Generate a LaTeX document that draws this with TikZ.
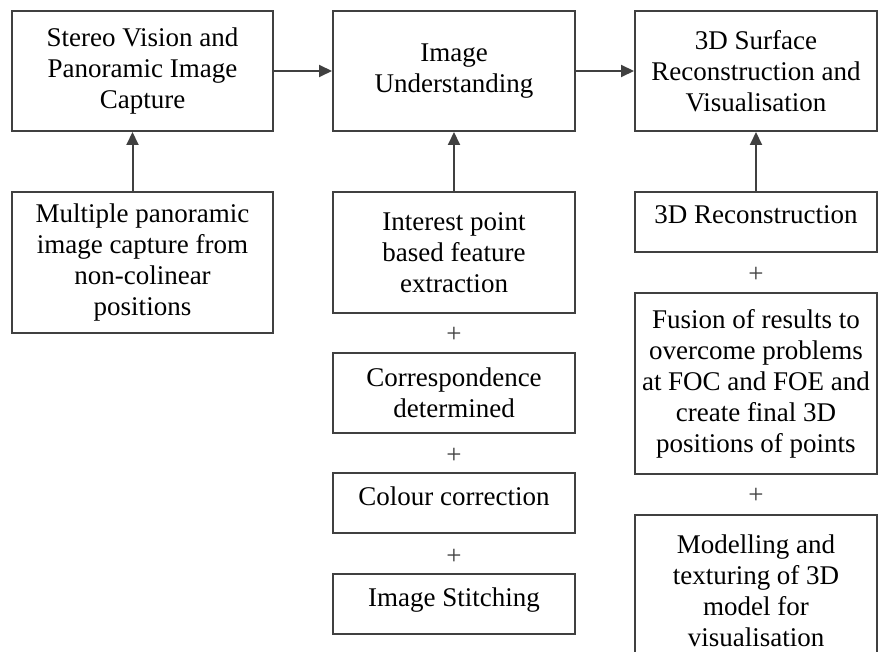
\documentclass[tikz,border=0pt]{standalone}
\usepackage{fontspec}
\setmainfont{Liberation Serif}
\usetikzlibrary{arrows.meta}

\begin{document}
\begin{tikzpicture}[x=1pt, y=-1pt, >={Triangle[length=13pt,width=12pt]},
  stage/.style={draw=boxgrey, line width=2pt, align=center, inner sep=0pt,
    font=\fontsize{27}{31}\selectfont},
  oneline/.style={text depth=14pt},
  plus/.style={inner sep=0pt, font=\fontsize{27}{31}\selectfont, text=black!75},
  link/.style={->, line width=2pt, draw=boxgrey}]

\definecolor{boxgrey}{rgb}{0.25,0.25,0.25}

\useasboundingbox (0,0) rectangle (887,652);
\clip (0,0) rectangle (887,652);

% top row
\node[stage, minimum width=261pt, minimum height=120pt] (cap) at (142.5,71) {Stereo Vision and\\Panoramic Image\\Capture};
\node[stage, minimum width=242pt, minimum height=120pt] (und) at (454,71) {Image\\Understanding};
\node[stage, minimum width=242pt, minimum height=120pt] (surf) at (756,71) {3D Surface\\Reconstruction and\\Visualisation};

% left column
\node[stage, minimum width=261pt, minimum height=141pt] (multi) at (142.5,262.5) {Multiple panoramic\\image capture from\\non-colinear\\positions};

% middle column
\node[stage, minimum width=242pt, minimum height=121pt] (feat) at (454,252.5) {Interest point\\based feature\\extraction};
\node[plus] (p1) at (454,335) {+};
\node[stage, minimum width=242pt, minimum height=80pt] (corr) at (454,393) {Correspondence\\determined};
\node[plus] (p2) at (454,456) {+};
\node[stage, oneline, minimum width=242pt, minimum height=60pt] (col) at (454,503) {Colour correction};
\node[plus] (p3) at (454,557) {+};
\node[stage, oneline, minimum width=242pt, minimum height=60pt] (stitch) at (454,604) {Image Stitching};

% right column
\node[stage, oneline, minimum width=242pt, minimum height=60pt] (recon) at (756,222) {3D Reconstruction};
\node[plus] (p4) at (756,275) {+};
\node[stage, minimum width=242pt, minimum height=181pt] (fus) at (756,383.5) {Fusion of results to\\overcome problems\\at FOC and FOE and\\create final 3D\\positions of points};
\node[plus] (p5) at (756,496) {+};
\node[stage, minimum width=242pt, minimum height=152pt] (model) at (756,591) {Modelling and\\texturing of 3D\\model for\\visualisation};

\draw[link] (cap) -- (und);
\draw[link] (und) -- (surf);
\draw[link] ([xshift=-10pt]multi.north) -- ([xshift=-10pt]cap.south);
\draw[link] (feat) -- (und);
\draw[link] (recon) -- (surf);

\end{tikzpicture}
\end{document}
